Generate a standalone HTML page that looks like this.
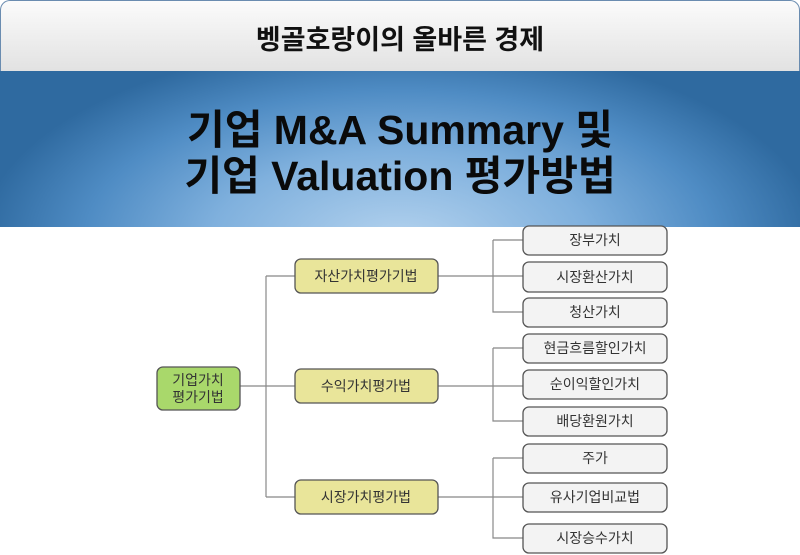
<!DOCTYPE html>
<html><head><meta charset="utf-8"><style>
body{margin:0;width:800px;height:555px;background:#fff;overflow:hidden;position:relative;font-family:"Liberation Sans","Noto Sans CJK KR",sans-serif}
#top{position:absolute;left:0;top:0;width:798px;height:70px;border:1px solid #6a8cb0;border-bottom:none;border-radius:10px 10px 0 0;background:linear-gradient(#fbfbfb,#e2e2e2);text-align:center;line-height:78px;font-size:27px;font-weight:bold;color:#111}
#band{position:absolute;left:0;top:71px;width:800px;height:156px;background:radial-gradient(ellipse 420px 200px at 400px 170px,#b3d2ee 0%,#7fb0dd 45%,#4f8cc4 75%,#2f6aa0 100%);text-align:center;font-size:41px;font-weight:bold;color:#0a0a0a;line-height:46px}
#band div{padding-top:36px}
svg{position:absolute;left:0;top:0}
</style></head><body>
<div id="top">벵골호랑이의 올바른 경제</div>
<div id="band"><div>기업 M&amp;A Summary 및<br>기업 Valuation 평가방법</div></div>
<svg width="800" height="555" font-family="Liberation Sans, Noto Sans CJK KR, sans-serif" font-size="14" text-anchor="middle" fill="#333">
<g stroke="#888" stroke-width="1.2" fill="none">
<path d="M240 386H295M266 276V497M266 276H295M266 497H295"/>
<path d="M438 276H523M493 240V312H523M493 240H523"/>
<path d="M438 386H523M493 348V421H523M493 348H523"/>
<path d="M438 497H523M493 458V538H523M493 458H523"/>
</g>
<g stroke="#555" stroke-width="1.3">
<rect x="157" y="367" width="83" height="43" rx="6" fill="#a9d86b"/>
<rect x="295" y="259" width="143" height="34" rx="6" fill="#e9e59a"/>
<rect x="295" y="369" width="143" height="34" rx="6" fill="#e9e59a"/>
<rect x="295" y="480" width="143" height="34" rx="6" fill="#e9e59a"/>
<g fill="#f3f3f3">
<rect x="523" y="226" width="144" height="29" rx="6"/>
<rect x="523" y="262" width="144" height="30" rx="6"/>
<rect x="523" y="298" width="144" height="29" rx="6"/>
<rect x="523" y="334" width="144" height="29" rx="6"/>
<rect x="523" y="370" width="144" height="29" rx="6"/>
<rect x="523" y="407" width="144" height="29" rx="6"/>
<rect x="523" y="444" width="144" height="29" rx="6"/>
<rect x="523" y="483" width="144" height="29" rx="6"/>
<rect x="523" y="524" width="144" height="29" rx="6"/>
</g></g>
<text x="198" y="385">기업가치</text><text x="198" y="402">평가기법</text>
<text x="366" y="281">자산가치평가기법</text>
<text x="366" y="391">수익가치평가법</text>
<text x="366" y="502">시장가치평가법</text>
<text x="595" y="245">장부가치</text>
<text x="595" y="282">시장환산가치</text>
<text x="595" y="317">청산가치</text>
<text x="595" y="353">현금흐름할인가치</text>
<text x="595" y="389">순이익할인가치</text>
<text x="595" y="426">배당환원가치</text>
<text x="595" y="463">주가</text>
<text x="595" y="502">유사기업비교법</text>
<text x="595" y="543">시장승수가치</text>
</svg>
</body></html>
